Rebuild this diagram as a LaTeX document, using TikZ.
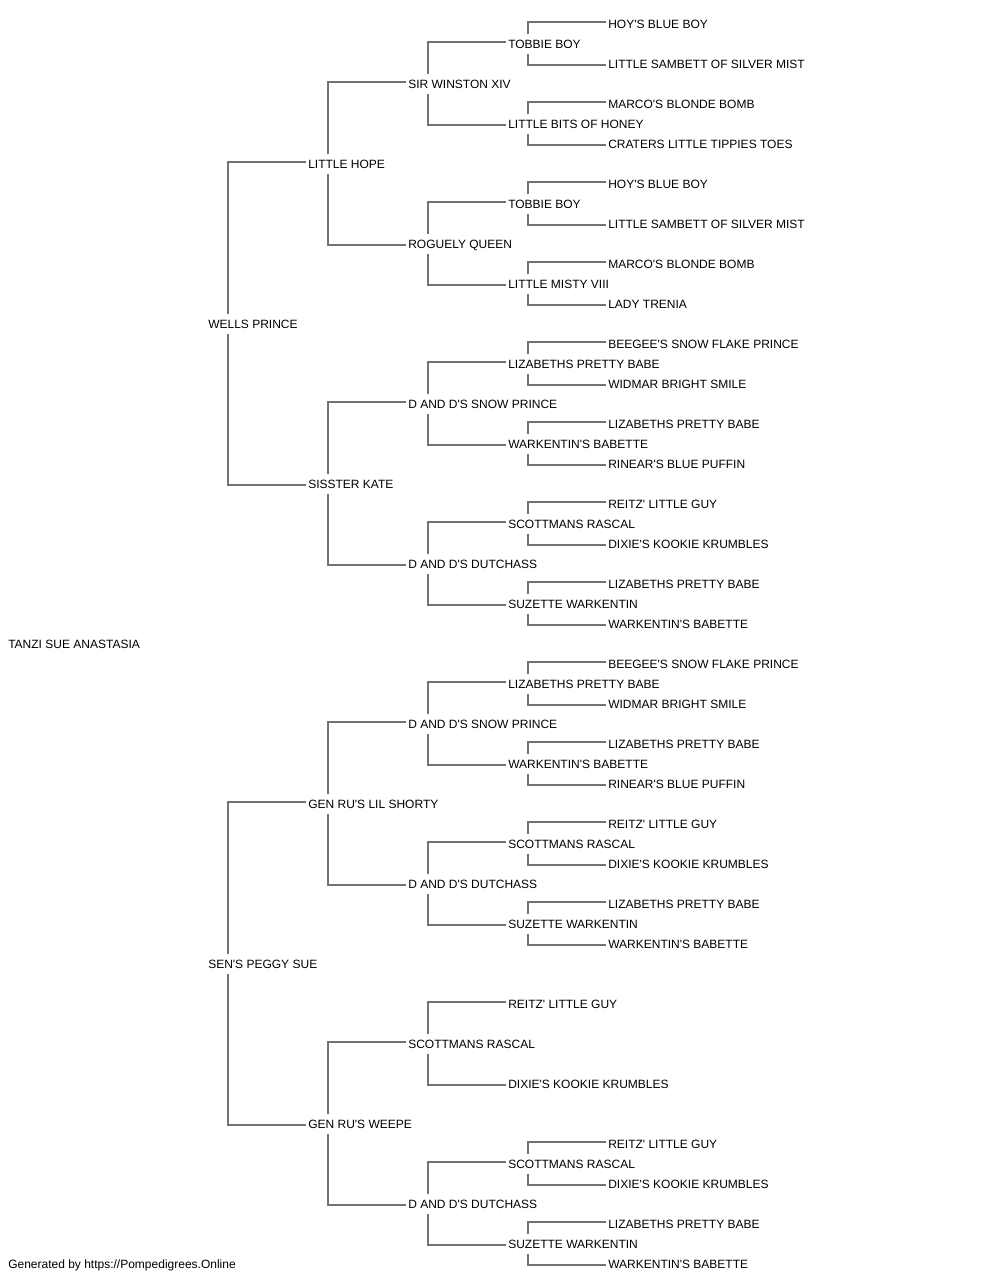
\documentclass[tikz,border=0pt]{standalone}
\usepackage{fontspec}
\setmainfont{Liberation Sans}[Ligatures=TeXOff]
\usetikzlibrary{
  positioning,
  calc,
}
\tikzset{
  x=0.75pt,
  y=-0.75pt,
  text height=1.5ex,
  text depth=.25ex,
  dog/.style={
    anchor=west,
    inner xsep=1.5pt,
    inner ysep=0pt,
    minimum height=14.25pt,
    font=\fontsize{9pt}{10pt}\selectfont,
  },
  link/.style={
    draw=black!55,
    line width=1pt,
  },
}

\begin{document}
\begin{tikzpicture}
  \useasboundingbox (0,0) rectangle (1000,1280);
  % generations 0 to 2
  \node[dog] (tanzi) at (6,644)  {TANZI SUE ANASTASIA};
  \node[dog] (s)     at (206,324)  {WELLS PRINCE};
  \node[dog] (d)     at (206,964)  {SEN'S PEGGY SUE};
  \node[dog] (ss)    at (306,164)  {LITTLE HOPE};
  \node[dog] (sd)    at (306,484)  {SISSTER KATE};
  \node[dog] (ds)    at (306,804)  {GEN RU'S LIL SHORTY};
  \node[dog] (dd)    at (306,1124) {GEN RU'S WEEPE};
  % generation 3
  \node[dog] (sss)   at (406,84)   {SIR WINSTON XIV};
  \node[dog] (ssd)   at (406,244)  {ROGUELY QUEEN};
  \node[dog] (sds)   at (406,404)  {D AND D'S SNOW PRINCE};
  \node[dog] (sdd)   at (406,564)  {D AND D'S DUTCHASS};
  \node[dog] (dss)   at (406,724)  {D AND D'S SNOW PRINCE};
  \node[dog] (dsd)   at (406,884)  {D AND D'S DUTCHASS};
  \node[dog] (dds)   at (406,1044) {SCOTTMANS RASCAL};
  \node[dog] (ddd)   at (406,1204) {D AND D'S DUTCHASS};
  % generation 4
  \node[dog] (ssss)  at (506,44)   {TOBBIE BOY};
  \node[dog] (sssd)  at (506,124)  {LITTLE BITS OF HONEY};
  \node[dog] (ssds)  at (506,204)  {TOBBIE BOY};
  \node[dog] (ssdd)  at (506,284)  {LITTLE MISTY VIII};
  \node[dog] (sdss)  at (506,364)  {LIZABETHS PRETTY BABE};
  \node[dog] (sdsd)  at (506,444)  {WARKENTIN'S BABETTE};
  \node[dog] (sdds)  at (506,524)  {SCOTTMANS RASCAL};
  \node[dog] (sddd)  at (506,604)  {SUZETTE WARKENTIN};
  \node[dog] (dsss)  at (506,684)  {LIZABETHS PRETTY BABE};
  \node[dog] (dssd)  at (506,764)  {WARKENTIN'S BABETTE};
  \node[dog] (dsds)  at (506,844)  {SCOTTMANS RASCAL};
  \node[dog] (dsdd)  at (506,924)  {SUZETTE WARKENTIN};
  \node[dog] (ddss)  at (506,1004) {REITZ' LITTLE GUY};
  \node[dog] (ddsd)  at (506,1084) {DIXIE'S KOOKIE KRUMBLES};
  \node[dog] (ddds)  at (506,1164) {SCOTTMANS RASCAL};
  \node[dog] (dddd)  at (506,1244) {SUZETTE WARKENTIN};
  % generation 5
  \node[dog] (sssss) at (606,24)   {HOY'S BLUE BOY};
  \node[dog] (ssssd) at (606,64)   {LITTLE SAMBETT OF SILVER MIST};
  \node[dog] (sssds) at (606,104)  {MARCO'S BLONDE BOMB};
  \node[dog] (sssdd) at (606,144)  {CRATERS LITTLE TIPPIES TOES};
  \node[dog] (ssdss) at (606,184)  {HOY'S BLUE BOY};
  \node[dog] (ssdsd) at (606,224)  {LITTLE SAMBETT OF SILVER MIST};
  \node[dog] (ssdds) at (606,264)  {MARCO'S BLONDE BOMB};
  \node[dog] (ssddd) at (606,304)  {LADY TRENIA};
  \node[dog] (sdsss) at (606,344)  {BEEGEE'S SNOW FLAKE PRINCE};
  \node[dog] (sdssd) at (606,384)  {WIDMAR BRIGHT SMILE};
  \node[dog] (sdsds) at (606,424)  {LIZABETHS PRETTY BABE};
  \node[dog] (sdsdd) at (606,464)  {RINEAR'S BLUE PUFFIN};
  \node[dog] (sddss) at (606,504)  {REITZ' LITTLE GUY};
  \node[dog] (sddsd) at (606,544)  {DIXIE'S KOOKIE KRUMBLES};
  \node[dog] (sddds) at (606,584)  {LIZABETHS PRETTY BABE};
  \node[dog] (sdddd) at (606,624)  {WARKENTIN'S BABETTE};
  \node[dog] (dssss) at (606,664)  {BEEGEE'S SNOW FLAKE PRINCE};
  \node[dog] (dsssd) at (606,704)  {WIDMAR BRIGHT SMILE};
  \node[dog] (dssds) at (606,744)  {LIZABETHS PRETTY BABE};
  \node[dog] (dssdd) at (606,784)  {RINEAR'S BLUE PUFFIN};
  \node[dog] (dsdss) at (606,824)  {REITZ' LITTLE GUY};
  \node[dog] (dsdsd) at (606,864)  {DIXIE'S KOOKIE KRUMBLES};
  \node[dog] (dsdds) at (606,904)  {LIZABETHS PRETTY BABE};
  \node[dog] (dsddd) at (606,944)  {WARKENTIN'S BABETTE};
  \node[dog] (dddss) at (606,1144) {REITZ' LITTLE GUY};
  \node[dog] (dddsd) at (606,1184) {DIXIE'S KOOKIE KRUMBLES};
  \node[dog] (dddds) at (606,1224) {LIZABETHS PRETTY BABE};
  \node[dog] (ddddd) at (606,1264) {WARKENTIN'S BABETTE};
  % footer
  \node[dog] (footer) at (6,1264) {Generated by https://Pompedigrees.Online};
  % sire and dam links
  \foreach \p/\a/\b in {
    s/ss/sd, d/ds/dd,
    ss/sss/ssd, sd/sds/sdd, ds/dss/dsd, dd/dds/ddd,
    sss/ssss/sssd, ssd/ssds/ssdd, sds/sdss/sdsd, sdd/sdds/sddd,
    dss/dsss/dssd, dsd/dsds/dsdd, dds/ddss/ddsd, ddd/ddds/dddd,
    ssss/sssss/ssssd, sssd/sssds/sssdd, ssds/ssdss/ssdsd, ssdd/ssdds/ssddd,
    sdss/sdsss/sdssd, sdsd/sdsds/sdsdd, sdds/sddss/sddsd, sddd/sddds/sdddd,
    dsss/dssss/dsssd, dssd/dssds/dssdd, dsds/dsdss/dsdsd, dsdd/dsdds/dsddd,
    ddds/dddss/dddsd, dddd/dddds/ddddd} {
    \draw[link] ([xshift=16.5pt]\p.north west) |- ([yshift=1.5pt]\a.west);
    \draw[link] ([xshift=16.5pt]\p.south west) |- ([yshift=-0.75pt]\b.west);
  }
\end{tikzpicture}
\end{document}
